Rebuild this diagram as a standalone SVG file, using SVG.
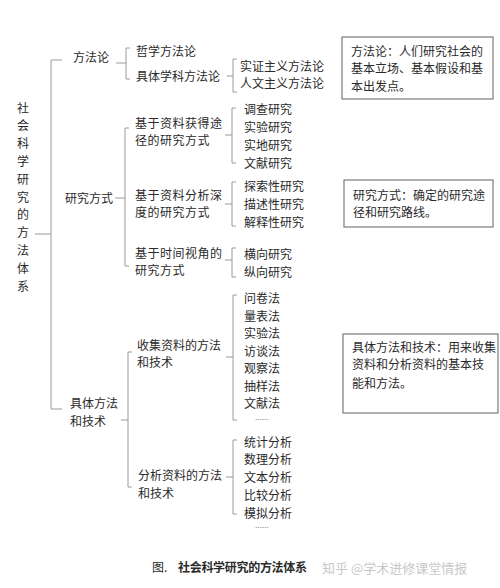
<svg xmlns="http://www.w3.org/2000/svg" width="500" height="588" viewBox="0 0 500 588">
<style>
text{font-family:"Noto Sans CJK SC","Noto Sans",sans-serif;font-size:12px;fill:#2a2a2a}
.b{fill:none;stroke:#9a9a9a;stroke-width:1}
.box{fill:#fff;stroke:#7a7a7a;stroke-width:1.2}
.wm{fill:#c8c8c8;font-size:13px}
.dots{font-size:7px;fill:#555}
</style>
<rect width="500" height="588" fill="#fff"/>
<g id="connectors">
<path class="b" d="M35,234 H51 M62,60 H51 V409 H62"/>
<path class="b" d="M116,63 H126 M130,48 H126 V79 H130"/>
<path class="b" d="M227,76 H233 M237,59 H233 V92 H237"/>
<path class="b" d="M115,198 H125 M129,128 H125 V266 H129"/>
<path class="b" d="M225,135 H232 M236,108 H232 V163 H236"/>
<path class="b" d="M225,204 H232 M236,182 H232 V226 H236"/>
<path class="b" d="M225,260 H232 M236,248 H232 V277 H236"/>
<path class="b" d="M121,420 H128 M132,352 H128 V487 H132"/>
<path class="b" d="M226,357 H233 M237,295 H233 V420 H237"/>
<path class="b" d="M226,477 H233 M237,440 H233 V514 H237"/>
</g>
<g id="root">
<text text-anchor="middle"><tspan x="23" y="112.5">社</tspan><tspan x="23" dy="17.8">会</tspan><tspan x="23" dy="17.8">科</tspan><tspan x="23" dy="17.8">学</tspan><tspan x="23" dy="17.8">研</tspan><tspan x="23" dy="17.8">究</tspan><tspan x="23" dy="17.8">的</tspan><tspan x="23" dy="17.8">方</tspan><tspan x="23" dy="17.8">法</tspan><tspan x="23" dy="17.8">体</tspan><tspan x="23" dy="17.8">系</tspan></text>
</g>
<g id="n-fangfalun"><text x="73" y="62">方法论</text></g>
<g id="n-zhexue"><text x="136" y="55.5">哲学方法论</text></g>
<g id="n-juti"><text x="136" y="80.5">具体学科方法论</text></g>
<g id="n-shizheng"><text x="240" y="70.5">实证主义方法论</text></g>
<g id="n-renwen"><text x="240" y="87.5">人文主义方法论</text></g>
<g id="n-yanjiufangshi"><text x="65" y="202.5">研究方式</text></g>
<g id="n-huode"><text x="135" y="127.5" letter-spacing="0.5">基于资料获得途</text><text x="135" y="144.5" letter-spacing="0.5">径的研究方式</text></g>
<g id="n-huode-items"><text x="244" y="113.5">调查研究</text><text x="244" y="131.5">实验研究</text><text x="244" y="149.5">实地研究</text><text x="244" y="167.5">文献研究</text></g>
<g id="n-shendu"><text x="135" y="199.5" letter-spacing="0.5">基于资料分析深</text><text x="135" y="216.5" letter-spacing="0.5">度的研究方式</text></g>
<g id="n-shendu-items"><text x="244" y="190.5">探索性研究</text><text x="244" y="208.5">描述性研究</text><text x="244" y="226.5">解释性研究</text></g>
<g id="n-shijian"><text x="135" y="257.5" letter-spacing="0.5">基于时间视角的</text><text x="135" y="274.5" letter-spacing="0.5">研究方式</text></g>
<g id="n-shijian-items"><text x="244" y="258.5">横向研究</text><text x="244" y="276.5">纵向研究</text></g>
<g id="n-jutifangfa"><text x="70" y="407.5">具体方法</text><text x="70" y="425.5">和技术</text></g>
<g id="n-shouji"><text x="137" y="349.5">收集资料的方法</text><text x="137" y="366.5">和技术</text></g>
<g id="n-shouji-items"><text x="244" y="302.5">问卷法</text><text x="244" y="320.5">量表法</text><text x="244" y="337.5">实验法</text><text x="244" y="355.5">访谈法</text><text x="244" y="372.5">观察法</text><text x="244" y="390.5">抽样法</text><text x="244" y="407.5">文献法</text><text class="dots" x="255" y="422">……</text></g>
<g id="n-fenxi"><text x="138" y="479.5">分析资料的方法</text><text x="138" y="497.5">和技术</text></g>
<g id="n-fenxi-items"><text x="244" y="446.5">统计分析</text><text x="244" y="463.5">数理分析</text><text x="244" y="481.5">文本分析</text><text x="244" y="499.5">比较分析</text><text x="244" y="517.5">模拟分析</text><text class="dots" x="255" y="530">……</text></g>
<g id="box1"><rect class="box" x="342" y="37" width="151" height="62"/><text x="351" y="55.5">方法论：人们研究社会的</text><text x="351" y="72.5">基本立场、基本假设和基</text><text x="351" y="90.5">本出发点。</text></g>
<g id="box2"><rect class="box" x="344" y="180" width="149" height="47"/><text x="353" y="199.5">研究方式：确定的研究途</text><text x="353" y="216.5">径和研究路线。</text></g>
<g id="box3"><rect class="box" x="343" y="334" width="155" height="79"/><text x="352" y="351.5">具体方法和技术：用来收集</text><text x="352" y="369">资料和分析资料的基本技</text><text x="352" y="387.5">能和方法。</text></g>
<g id="caption"><text x="152" y="572">图.</text><text x="178" y="572" font-weight="bold" letter-spacing="-0.3">社会科学研究的方法体系</text><text class="wm" x="322" y="573">知乎 @学术进修课堂情报</text></g>
</svg>
